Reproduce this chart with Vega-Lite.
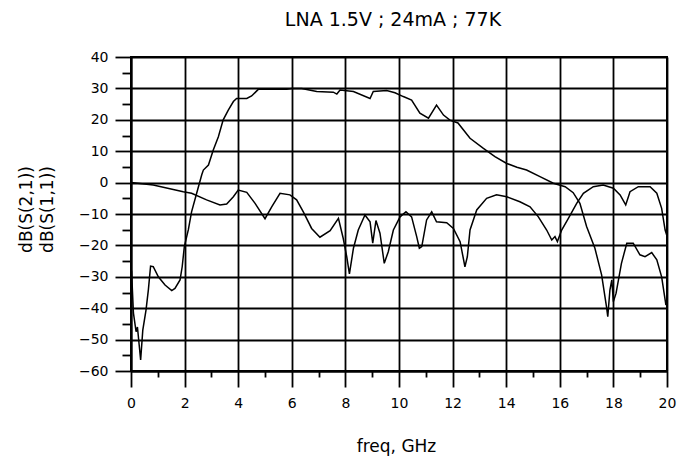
{
  "$schema": "https://vega.github.io/schema/vega-lite/v6.json",
  "width": 536,
  "height": 314,
  "autosize": {"type": "none"},
  "padding": {"left": 131, "top": 57, "right": 19, "bottom": 91},
  "background": "white",
  "config": {
    "view": {"stroke": "black", "strokeWidth": 2},
    "font": "DejaVu Sans"
  },
  "title": {
    "text": "LNA 1.5V ; 24mA ; 77K",
    "font": "DejaVu Sans",
    "fontSize": 19,
    "fontWeight": "normal",
    "color": "black",
    "anchor": "middle",
    "offset": 20,
    "dx": -6
  },
  "datasets": {
    "curves": [
      {"f": 0.02, "db": -28, "s": "S21"},
      {"f": 0.09, "db": -41.5, "s": "S21"},
      {"f": 0.19, "db": -47.5, "s": "S21"},
      {"f": 0.24, "db": -46, "s": "S21"},
      {"f": 0.36, "db": -56.5, "s": "S21"},
      {"f": 0.44, "db": -47, "s": "S21"},
      {"f": 0.56, "db": -40.6, "s": "S21"},
      {"f": 0.65, "db": -34, "s": "S21"},
      {"f": 0.73, "db": -26.6, "s": "S21"},
      {"f": 0.83, "db": -26.8, "s": "S21"},
      {"f": 1.02, "db": -30, "s": "S21"},
      {"f": 1.27, "db": -32.6, "s": "S21"},
      {"f": 1.52, "db": -34.4, "s": "S21"},
      {"f": 1.64, "db": -33.7, "s": "S21"},
      {"f": 1.83, "db": -31, "s": "S21"},
      {"f": 1.91, "db": -26.8, "s": "S21"},
      {"f": 1.99, "db": -20.4, "s": "S21"},
      {"f": 2.14, "db": -15, "s": "S21"},
      {"f": 2.26, "db": -9.3, "s": "S21"},
      {"f": 2.45, "db": -3.4, "s": "S21"},
      {"f": 2.64, "db": 2.5, "s": "S21"},
      {"f": 2.7, "db": 4, "s": "S21"},
      {"f": 2.89, "db": 5.6, "s": "S21"},
      {"f": 3.07, "db": 10.4, "s": "S21"},
      {"f": 3.26, "db": 14.6, "s": "S21"},
      {"f": 3.44, "db": 20, "s": "S21"},
      {"f": 3.63, "db": 23.1, "s": "S21"},
      {"f": 3.82, "db": 25.8, "s": "S21"},
      {"f": 3.94, "db": 26.8, "s": "S21"},
      {"f": 4.32, "db": 26.8, "s": "S21"},
      {"f": 4.5, "db": 27.6, "s": "S21"},
      {"f": 4.75, "db": 29.7, "s": "S21"},
      {"f": 5.81, "db": 29.7, "s": "S21"},
      {"f": 6.0, "db": 30, "s": "S21"},
      {"f": 6.37, "db": 30, "s": "S21"},
      {"f": 6.93, "db": 29, "s": "S21"},
      {"f": 7.55, "db": 28.8, "s": "S21"},
      {"f": 7.68, "db": 28.2, "s": "S21"},
      {"f": 7.8, "db": 29.5, "s": "S21"},
      {"f": 8.3, "db": 29, "s": "S21"},
      {"f": 8.92, "db": 26.8, "s": "S21"},
      {"f": 9.04, "db": 29, "s": "S21"},
      {"f": 9.54, "db": 29.3, "s": "S21"},
      {"f": 9.85, "db": 28.6, "s": "S21"},
      {"f": 10.16, "db": 27.4, "s": "S21"},
      {"f": 10.47, "db": 26.3, "s": "S21"},
      {"f": 10.78, "db": 22.1, "s": "S21"},
      {"f": 11.1, "db": 20.5, "s": "S21"},
      {"f": 11.4, "db": 24.7, "s": "S21"},
      {"f": 11.66, "db": 21.5, "s": "S21"},
      {"f": 11.9, "db": 19.9, "s": "S21"},
      {"f": 12.2, "db": 19, "s": "S21"},
      {"f": 12.65, "db": 14.1, "s": "S21"},
      {"f": 13.15, "db": 10.9, "s": "S21"},
      {"f": 13.58, "db": 8.3, "s": "S21"},
      {"f": 14.02, "db": 6.1, "s": "S21"},
      {"f": 14.4, "db": 4.9, "s": "S21"},
      {"f": 14.76, "db": 4, "s": "S21"},
      {"f": 15.26, "db": 1.9, "s": "S21"},
      {"f": 15.76, "db": -0.2, "s": "S21"},
      {"f": 16.2, "db": -1.3, "s": "S21"},
      {"f": 16.5, "db": -3.2, "s": "S21"},
      {"f": 16.75, "db": -6.6, "s": "S21"},
      {"f": 17.0, "db": -14, "s": "S21"},
      {"f": 17.31, "db": -20.9, "s": "S21"},
      {"f": 17.56, "db": -29.4, "s": "S21"},
      {"f": 17.75, "db": -40, "s": "S21"},
      {"f": 17.79, "db": -42.7, "s": "S21"},
      {"f": 17.87, "db": -34.2, "s": "S21"},
      {"f": 17.94, "db": -31, "s": "S21"},
      {"f": 18.0, "db": -37.9, "s": "S21"},
      {"f": 18.1, "db": -35.2, "s": "S21"},
      {"f": 18.3, "db": -25.7, "s": "S21"},
      {"f": 18.5, "db": -19.3, "s": "S21"},
      {"f": 18.74, "db": -19.3, "s": "S21"},
      {"f": 18.99, "db": -23, "s": "S21"},
      {"f": 19.18, "db": -23.6, "s": "S21"},
      {"f": 19.43, "db": -22.3, "s": "S21"},
      {"f": 19.62, "db": -24.6, "s": "S21"},
      {"f": 19.8, "db": -30, "s": "S21"},
      {"f": 19.96, "db": -39, "s": "S21"},
      {"f": 0.0, "db": 0, "s": "S11"},
      {"f": 0.83, "db": -0.8, "s": "S11"},
      {"f": 1.95, "db": -2.9, "s": "S11"},
      {"f": 2.26, "db": -3.4, "s": "S11"},
      {"f": 2.82, "db": -5.5, "s": "S11"},
      {"f": 3.32, "db": -7.1, "s": "S11"},
      {"f": 3.57, "db": -6.8, "s": "S11"},
      {"f": 3.82, "db": -4.5, "s": "S11"},
      {"f": 4.0, "db": -2.4, "s": "S11"},
      {"f": 4.32, "db": -3.1, "s": "S11"},
      {"f": 4.63, "db": -6.6, "s": "S11"},
      {"f": 5.0, "db": -11.5, "s": "S11"},
      {"f": 5.25, "db": -7.7, "s": "S11"},
      {"f": 5.56, "db": -3.4, "s": "S11"},
      {"f": 5.93, "db": -3.9, "s": "S11"},
      {"f": 6.18, "db": -5.5, "s": "S11"},
      {"f": 6.43, "db": -9.3, "s": "S11"},
      {"f": 6.74, "db": -14.6, "s": "S11"},
      {"f": 7.05, "db": -17.4, "s": "S11"},
      {"f": 7.43, "db": -15.3, "s": "S11"},
      {"f": 7.74, "db": -11.4, "s": "S11"},
      {"f": 7.92, "db": -17.8, "s": "S11"},
      {"f": 8.05, "db": -23.6, "s": "S11"},
      {"f": 8.15, "db": -29.1, "s": "S11"},
      {"f": 8.3, "db": -20.9, "s": "S11"},
      {"f": 8.48, "db": -15.1, "s": "S11"},
      {"f": 8.73, "db": -10.3, "s": "S11"},
      {"f": 8.92, "db": -12.5, "s": "S11"},
      {"f": 9.02, "db": -19.3, "s": "S11"},
      {"f": 9.14, "db": -12.1, "s": "S11"},
      {"f": 9.29, "db": -16.1, "s": "S11"},
      {"f": 9.45, "db": -25.7, "s": "S11"},
      {"f": 9.6, "db": -22, "s": "S11"},
      {"f": 9.79, "db": -15.1, "s": "S11"},
      {"f": 10.04, "db": -10.9, "s": "S11"},
      {"f": 10.26, "db": -9.3, "s": "S11"},
      {"f": 10.47, "db": -10.9, "s": "S11"},
      {"f": 10.66, "db": -17.2, "s": "S11"},
      {"f": 10.76, "db": -20.9, "s": "S11"},
      {"f": 10.85, "db": -20.4, "s": "S11"},
      {"f": 11.03, "db": -11.9, "s": "S11"},
      {"f": 11.22, "db": -9.3, "s": "S11"},
      {"f": 11.4, "db": -12.5, "s": "S11"},
      {"f": 11.78, "db": -12.8, "s": "S11"},
      {"f": 12.03, "db": -14.6, "s": "S11"},
      {"f": 12.28, "db": -18.8, "s": "S11"},
      {"f": 12.46, "db": -26.8, "s": "S11"},
      {"f": 12.55, "db": -23.6, "s": "S11"},
      {"f": 12.65, "db": -15.1, "s": "S11"},
      {"f": 12.9, "db": -8.7, "s": "S11"},
      {"f": 13.27, "db": -5, "s": "S11"},
      {"f": 13.64, "db": -3.9, "s": "S11"},
      {"f": 14.02, "db": -4.5, "s": "S11"},
      {"f": 14.51, "db": -6.1, "s": "S11"},
      {"f": 14.89, "db": -7.7, "s": "S11"},
      {"f": 15.2, "db": -10.9, "s": "S11"},
      {"f": 15.51, "db": -15.1, "s": "S11"},
      {"f": 15.7, "db": -18.3, "s": "S11"},
      {"f": 15.82, "db": -17.2, "s": "S11"},
      {"f": 15.91, "db": -18.8, "s": "S11"},
      {"f": 16.07, "db": -15.1, "s": "S11"},
      {"f": 16.32, "db": -11.4, "s": "S11"},
      {"f": 16.63, "db": -6.6, "s": "S11"},
      {"f": 16.88, "db": -3.4, "s": "S11"},
      {"f": 17.25, "db": -1.3, "s": "S11"},
      {"f": 17.62, "db": -0.8, "s": "S11"},
      {"f": 18.0, "db": -1.8, "s": "S11"},
      {"f": 18.25, "db": -3.9, "s": "S11"},
      {"f": 18.46, "db": -7.1, "s": "S11"},
      {"f": 18.62, "db": -2.9, "s": "S11"},
      {"f": 18.93, "db": -1.3, "s": "S11"},
      {"f": 19.37, "db": -1.3, "s": "S11"},
      {"f": 19.62, "db": -3.4, "s": "S11"},
      {"f": 19.8, "db": -8.2, "s": "S11"},
      {"f": 19.93, "db": -15.1, "s": "S11"},
      {"f": 20.0, "db": -17, "s": "S11"}
    ]
  },
  "data": {"name": "curves"},
  "resolve": {"axis": {"x": "independent", "y": "independent"}},
  "layer": [
    {
      "mark": {"type": "line", "color": "black", "strokeWidth": 1.5, "clip": true},
      "encoding": {
        "x": {
          "field": "f", "type": "quantitative",
          "scale": {"domain": [0, 20], "nice": false, "zero": false},
          "axis": {
            "orient": "bottom",
            "values": [0, 2, 4, 6, 8, 10, 12, 14, 16, 18, 20],
            "grid": true, "gridColor": "black", "gridWidth": 1.8, "gridOpacity": 1,
            "domainColor": "black", "domainWidth": 2,
            "tickColor": "black", "tickWidth": 1.8, "tickSize": 16,
            "labelFont": "DejaVu Sans", "labelFontSize": 14, "labelColor": "black", "labelPadding": 9,
            "labelFlush": false, "labelOverlap": false,
            "title": "freq, GHz",
            "titleFont": "DejaVu Sans", "titleFontSize": 17, "titleFontWeight": "normal", "titleColor": "black",
            "titleX": 265, "titleY": 80, "titleBaseline": "alphabetic", "titleAlign": "center"
          }
        },
        "y": {
          "field": "db", "type": "quantitative",
          "scale": {"domain": [-60, 40], "nice": false, "zero": false},
          "axis": {
            "orient": "left",
            "values": [-60, -50, -40, -30, -20, -10, 0, 10, 20, 30, 40],
            "grid": true, "gridColor": "black", "gridWidth": 1.8, "gridOpacity": 1,
            "domainColor": "black", "domainWidth": 2,
            "tickColor": "black", "tickWidth": 1.8, "tickSize": 16,
            "labelFont": "DejaVu Sans", "labelFontSize": 14, "labelColor": "black", "labelPadding": 7,
            "labelFlush": false, "labelOverlap": false,
            "title": ["dB(S(2,1))", "dB(S(1,1))"],
            "titleFont": "DejaVu Sans", "titleFontSize": 17, "titleFontWeight": "normal", "titleColor": "black",
            "titleAngle": 270, "titleX": -113, "titleY": 152, "titleBaseline": "top", "titleAlign": "center",
            "titleLineHeight": 21
          }
        },
        "detail": {"field": "s", "type": "nominal"}
      }
    },
    {
      "mark": {"type": "point", "opacity": 0, "size": 1},
      "encoding": {
        "x": {
          "field": "f", "type": "quantitative",
          "axis": {
            "orient": "bottom",
            "values": [1, 3, 5, 7, 9, 11, 13, 15, 17, 19],
            "grid": false, "domain": false, "labels": false, "title": null,
            "tickColor": "black", "tickWidth": 1.8, "tickSize": 6
          }
        },
        "y": {
          "field": "db", "type": "quantitative",
          "axis": {
            "orient": "left",
            "values": [-55, -45, -35, -25, -15, -5, 5, 15, 25, 35],
            "grid": false, "domain": false, "labels": false, "title": null,
            "tickColor": "black", "tickWidth": 1.8, "tickSize": 9
          }
        }
      }
    }
  ]
}
